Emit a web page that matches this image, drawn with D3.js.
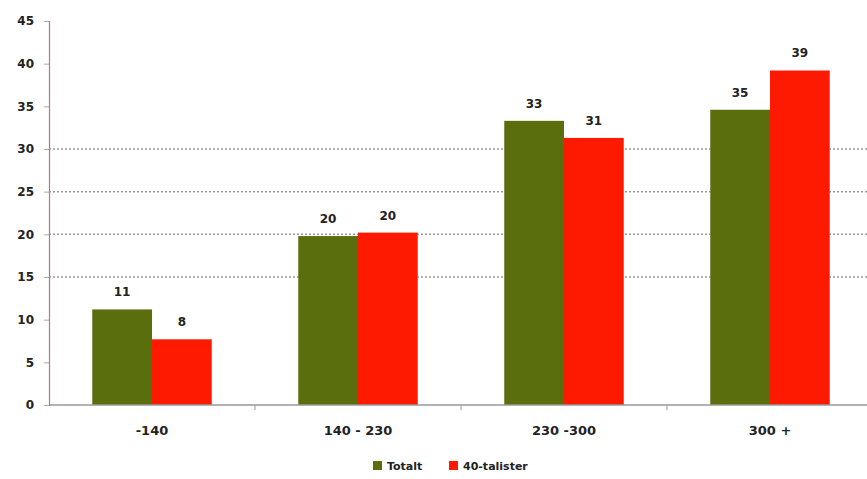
<!DOCTYPE html>
<html><head><meta charset="utf-8">
<script src="https://cdn.jsdelivr.net/npm/d3@7"></script>
<style>body{margin:0;background:#fff;}svg{display:block;font-family:"DejaVu Sans",Verdana,sans-serif;}</style>
</head><body><svg id="c" width="867" height="479"></svg>
<script>
const categories = ["-140", "140 - 230", "230 -300", "300 +"];
const seriesNames = ["Totalt", "40-talister"];
const totalt = [11.2, 19.8, 33.3, 34.6];
const fyrtiotalister = [7.7, 20.2, 31.3, 39.2];
const valueLabels = [[11, 20, 33, 35], [8, 20, 31, 39]];
const yTicks = [0, 5, 10, 15, 20, 25, 30, 35, 40, 45];
const gridTicks = [15, 20, 25, 30];
const colors = ["#5b6e0e", "#fe1a00"];

const svg = d3.select("#c");
const x0 = d3.scaleBand().domain(categories).range([49, 873]).paddingInner(0.42).paddingOuter(0.21);
const x1 = d3.scaleBand().domain(seriesNames).range([0, x0.bandwidth()]);
const y = d3.scaleLinear().domain([0, 45]).range([405, 21]);
const color = d3.scaleOrdinal().domain(seriesNames).range(colors);

// gridlines
svg.append("g").selectAll("line").data(gridTicks).join("line")
  .attr("x1", 49).attr("x2", 867).attr("y1", d => y(d)).attr("y2", d => y(d))
  .attr("stroke", "#9a9a9a").attr("stroke-width", 1.5).attr("stroke-dasharray", "2,2");

const data = [totalt, fyrtiotalister];
const g = svg.append("g");
seriesNames.forEach((s, si) => {
  g.selectAll(".b" + si).data(categories).join("rect")
    .attr("x", c => x0(c) + x1(s)).attr("width", x1.bandwidth())
    .attr("y", (c, i) => y(data[si][i])).attr("height", (c, i) => y(0) - y(data[si][i]))
    .attr("fill", color(s));
  g.selectAll(".l" + si).data(categories).join("text")
    .attr("x", c => x0(c) + x1(s) + x1.bandwidth() / 2)
    .attr("y", (c, i) => y(data[si][i]) - 13)
    .attr("text-anchor", "middle").attr("font-size", 12).attr("font-weight", "bold").attr("fill", "#222")
    .text((c, i) => valueLabels[si][i]);
});

// x axis
svg.append("line").attr("x1", 49).attr("x2", 867).attr("y1", 405).attr("y2", 405).attr("stroke", "#999").attr("stroke-width", 1.5);
const step = x0.step();
svg.append("g").selectAll("line").data([1, 2, 3]).join("line")
  .attr("x1", d => 49 + d * step).attr("x2", d => 49 + d * step)
  .attr("y1", 405).attr("y2", 410).attr("stroke", "#999");
svg.append("g").selectAll("text").data(categories).join("text")
  .attr("x", c => x0(c) + x0.bandwidth() / 2).attr("y", 435)
  .attr("text-anchor", "middle").attr("font-size", 13).attr("font-weight", "bold").attr("fill", "#222")
  .text(c => c);

// y axis
const yAxis = d3.axisLeft(y).tickValues(yTicks).tickSize(5).tickPadding(10);
const ya = svg.append("g").attr("transform", "translate(49,0)").call(yAxis);
ya.select(".domain").attr("stroke", "#c07080").attr("stroke-width", 1.2);
ya.selectAll(".tick line").attr("stroke", "#aaa");
ya.selectAll(".tick text").attr("font-size", 12).attr("font-weight", "bold").attr("fill", "#222").attr("font-family", "DejaVu Sans, Verdana, sans-serif");

// legend
const legend = svg.append("g").attr("transform", "translate(373,466)");
const lx = [0, 76];
seriesNames.forEach((s, i) => {
  legend.append("rect").attr("x", lx[i]).attr("y", -5).attr("width", 9).attr("height", 9).attr("fill", color(s));
  legend.append("text").attr("x", lx[i] + 14).attr("y", 4).attr("font-size", 11).attr("font-weight", "bold").attr("fill", "#222").text(s);
});
</script></body></html>
